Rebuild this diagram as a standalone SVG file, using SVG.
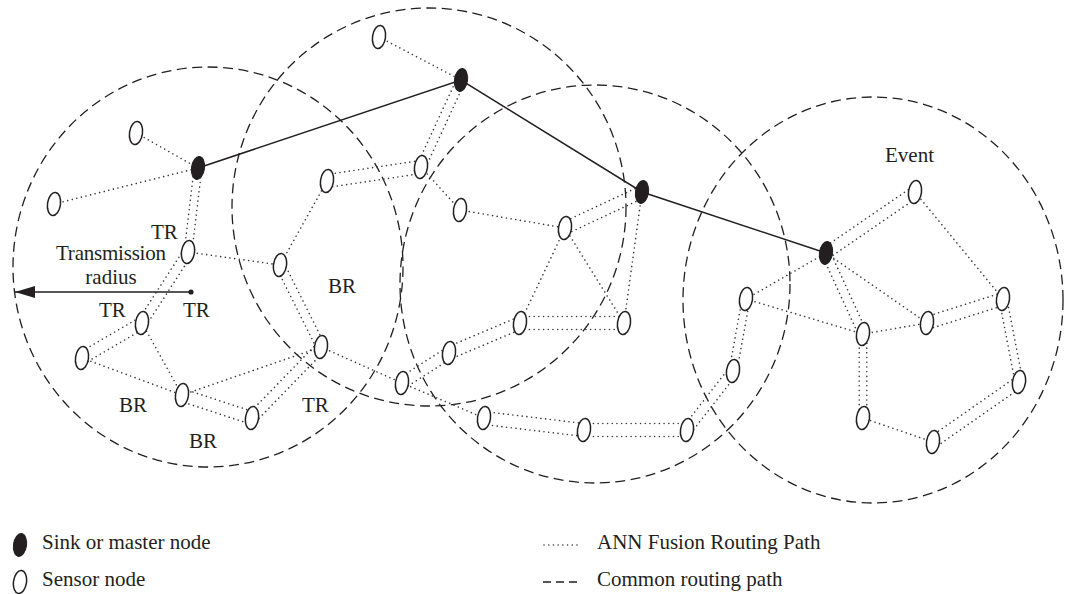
<svg xmlns="http://www.w3.org/2000/svg" width="1065" height="594" viewBox="0 0 1065 594">
  <style>
    .ring { fill: none; stroke: #231f20; stroke-width: 1.3; stroke-dasharray: 10 5.5; }
    .dot { fill: none; stroke: #3a3a3a; stroke-width: 1.6; stroke-dasharray: 0.01 4.7; stroke-linecap: round; }
    .link { fill: none; stroke: #231f20; stroke-width: 1.5; }
    .sensor { fill: #fff; stroke: #231f20; stroke-width: 1.5; }
    .sink { fill: #231f20; stroke: #231f20; stroke-width: 1; }
    text { font-family: "Liberation Serif", "Times New Roman", serif; font-size: 21px; fill: #231f20; }
  </style>
  <defs>
    <ellipse id="sensor" class="sensor" rx="6.5" ry="11.5" transform="rotate(8)"/>
    <ellipse id="sink" class="sink" rx="6.5" ry="11.5" transform="rotate(8)"/>
    <marker id="head" viewBox="0 0 20 12" refX="20" refY="6" markerWidth="20" markerHeight="12" markerUnits="userSpaceOnUse" orient="auto">
      <path d="M0,0 L20,6 L0,12 Z" fill="#231f20"/>
    </marker>
  </defs>

  <!-- transmission ranges of the four clusters -->
  <g id="ranges">
    <ellipse class="ring" cx="208" cy="267" rx="195" ry="200"/>
    <ellipse class="ring" cx="429" cy="207" rx="197" ry="199"/>
    <ellipse class="ring" cx="595" cy="284" rx="195" ry="199"/>
    <ellipse class="ring" cx="873" cy="300" rx="190" ry="203"/>
  </g>

  <!-- connectors -->
  <g id="connectors">
    <!-- single dotted hops -->
    <line class="dot" x1="136" y1="133" x2="198" y2="168"/>
    <line class="dot" x1="54" y1="204" x2="198" y2="168"/>
    <line class="dot" x1="188" y1="252" x2="280" y2="265"/>
    <line class="dot" x1="280" y1="265" x2="327" y2="181"/>
    <line class="dot" x1="82" y1="358" x2="182" y2="395"/>
    <line class="dot" x1="142" y1="323" x2="182" y2="395"/>
    <line class="dot" x1="182" y1="395" x2="321" y2="347"/>
    <line class="dot" x1="321" y1="347" x2="402" y2="383"/>
    <line class="dot" x1="379" y1="37" x2="461" y2="80"/>
    <line class="dot" x1="421" y1="167" x2="460" y2="210"/>
    <line class="dot" x1="460" y1="210" x2="565" y2="228"/>
    <line class="dot" x1="565" y1="228" x2="520" y2="323"/>
    <line class="dot" x1="565" y1="228" x2="624" y2="323"/>
    <line class="dot" x1="642" y1="192" x2="624" y2="323"/>
    <line class="dot" x1="402" y1="383" x2="484" y2="418"/>
    <line class="dot" x1="746" y1="299" x2="826" y2="253"/>
    <line class="dot" x1="746" y1="299" x2="863" y2="334"/>
    <line class="dot" x1="826" y1="253" x2="927" y2="323"/>
    <line class="dot" x1="863" y1="334" x2="927" y2="323"/>
    <line class="dot" x1="915" y1="192" x2="1003" y2="299"/>
    <line class="dot" x1="933" y1="442" x2="863" y2="418"/>

    <!-- double dotted hops -->
    <path class="dot" d="M194.2,167.6 L184.2,251.6 M201.8,168.4 L191.8,252.4"/>
    <path class="dot" d="M184,249.4 L138,320.4 M192,254.6 L146,325.6"/>
    <path class="dot" d="M139,317.9 L79,352.9 M145,328.1 L85,363.1"/>
    <path class="dot" d="M276,267 L317,349 M284,263 L325,345"/>
    <path class="dot" d="M180,401 L250,424 M184,389 L254,412"/>
    <path class="dot" d="M255.8,421.7 L324.8,350.7 M248.2,414.3 L317.2,343.3"/>
    <path class="dot" d="M328,187.4 L422,173.4 M326,174.6 L420,160.6"/>
    <path class="dot" d="M457,78.2 L417,165.2 M465,81.8 L425,168.8"/>
    <path class="dot" d="M567.6,233.5 L644.6,197.5 M562.4,222.5 L639.4,186.5"/>
    <path class="dot" d="M520,316.5 L624,316.5 M520,329.5 L624,329.5"/>
    <path class="dot" d="M517.6,317.3 L446.6,347.3 M522.4,328.7 L451.4,358.7"/>
    <path class="dot" d="M445.9,348.1 L398.9,378.1 M452.1,357.9 L405.1,387.9"/>
    <path class="dot" d="M483.2,424.4 L583.2,436.4 M484.8,411.6 L584.8,423.6"/>
    <path class="dot" d="M584,423.5 L687,423.5 M584,436.5 L687,436.5"/>
    <path class="dot" d="M690.9,433.1 L736.9,374.1 M683.1,426.9 L729.1,367.9"/>
    <path class="dot" d="M736.8,371.7 L749.8,299.7 M729.2,370.3 L742.2,298.3"/>
    <path class="dot" d="M829.3,257.8 L918.3,196.8 M822.8,248.3 L911.8,187.3"/>
    <path class="dot" d="M822,254.8 L859,335.8 M830,251.2 L867,332.2"/>
    <path class="dot" d="M928.9,329 L1004.9,305 M925.1,317 L1001.1,293"/>
    <path class="dot" d="M999.2,299.7 L1015.2,382.7 M1006.8,298.3 L1022.8,381.3"/>
    <path class="dot" d="M1015.7,377.3 L929.7,437.3 M1022.3,386.7 L936.3,446.7"/>
    <path class="dot" d="M859.2,334 L859.2,418 M866.8,334 L866.8,418"/>

    <!-- sink-to-sink backbone -->
    <polyline class="link" points="198,168 461,80 642,192 826,253"/>

    <!-- transmission radius arrow -->
    <line class="link" x1="191" y1="292" x2="15" y2="292" marker-end="url(#head)"/>
    <circle cx="191" cy="292" r="2.6" fill="#231f20"/>
  </g>

  <!-- sink (master) nodes -->
  <g id="sink-1" transform="translate(198,168)"><use href="#sink"/></g>
  <g id="sink-2" transform="translate(461,80)"><use href="#sink"/></g>
  <g id="sink-3" transform="translate(642,192)"><use href="#sink"/></g>
  <g id="sink-4" transform="translate(826,253)"><use href="#sink"/></g>

  <!-- sensor nodes -->
  <g id="sensor-a" transform="translate(136,133)"><use href="#sensor"/></g>
  <g id="sensor-b" transform="translate(54,204)"><use href="#sensor"/></g>
  <g id="sensor-c" transform="translate(188,252)"><use href="#sensor"/></g>
  <g id="sensor-d" transform="translate(280,265)"><use href="#sensor"/></g>
  <g id="sensor-e" transform="translate(327,181)"><use href="#sensor"/></g>
  <g id="sensor-f" transform="translate(142,323)"><use href="#sensor"/></g>
  <g id="sensor-g" transform="translate(82,358)"><use href="#sensor"/></g>
  <g id="sensor-h" transform="translate(182,395)"><use href="#sensor"/></g>
  <g id="sensor-i" transform="translate(252,418)"><use href="#sensor"/></g>
  <g id="sensor-j" transform="translate(321,347)"><use href="#sensor"/></g>
  <g id="sensor-k" transform="translate(379,37)"><use href="#sensor"/></g>
  <g id="sensor-l" transform="translate(421,167)"><use href="#sensor"/></g>
  <g id="sensor-m" transform="translate(460,210)"><use href="#sensor"/></g>
  <g id="sensor-n" transform="translate(565,228)"><use href="#sensor"/></g>
  <g id="sensor-o" transform="translate(520,323)"><use href="#sensor"/></g>
  <g id="sensor-p" transform="translate(624,323)"><use href="#sensor"/></g>
  <g id="sensor-q" transform="translate(449,353)"><use href="#sensor"/></g>
  <g id="sensor-r" transform="translate(402,383)"><use href="#sensor"/></g>
  <g id="sensor-s" transform="translate(484,418)"><use href="#sensor"/></g>
  <g id="sensor-t" transform="translate(584,430)"><use href="#sensor"/></g>
  <g id="sensor-u" transform="translate(687,430)"><use href="#sensor"/></g>
  <g id="sensor-v" transform="translate(733,371)"><use href="#sensor"/></g>
  <g id="sensor-w" transform="translate(746,299)"><use href="#sensor"/></g>
  <g id="sensor-x" transform="translate(915,192)"><use href="#sensor"/></g>
  <g id="sensor-y" transform="translate(863,334)"><use href="#sensor"/></g>
  <g id="sensor-z" transform="translate(927,323)"><use href="#sensor"/></g>
  <g id="sensor-aa" transform="translate(1003,299)"><use href="#sensor"/></g>
  <g id="sensor-ab" transform="translate(1019,382)"><use href="#sensor"/></g>
  <g id="sensor-ac" transform="translate(863,418)"><use href="#sensor"/></g>
  <g id="sensor-ad" transform="translate(933,442)"><use href="#sensor"/></g>

  <!-- annotations -->
  <g id="labels">
    <text x="151" y="239">TR</text>
    <text x="111" y="260" text-anchor="middle" textLength="110" lengthAdjust="spacing">Transmission</text>
    <text x="111" y="284" text-anchor="middle">radius</text>
    <text x="99" y="317">TR</text>
    <text x="183" y="317">TR</text>
    <text x="119" y="412">BR</text>
    <text x="189" y="448">BR</text>
    <text x="302" y="412">TR</text>
    <text x="328" y="293">BR</text>
    <text x="885" y="162">Event</text>
  </g>

  <!-- legend -->
  <g id="legend">
    <g id="legend-sink" transform="translate(20,545)"><use href="#sink"/></g>
    <text x="42" y="549">Sink or master node</text>
    <g id="legend-sensor" transform="translate(20,582)"><use href="#sensor"/></g>
    <text x="42" y="586">Sensor node</text>
    <line class="dot" x1="544" y1="545" x2="578" y2="545"/>
    <text x="597" y="549">ANN Fusion Routing Path</text>
    <line class="ring" x1="543" y1="582" x2="578" y2="582" style="stroke-dasharray: 8 5"/>
    <text x="597" y="586">Common routing path</text>
  </g>
</svg>
